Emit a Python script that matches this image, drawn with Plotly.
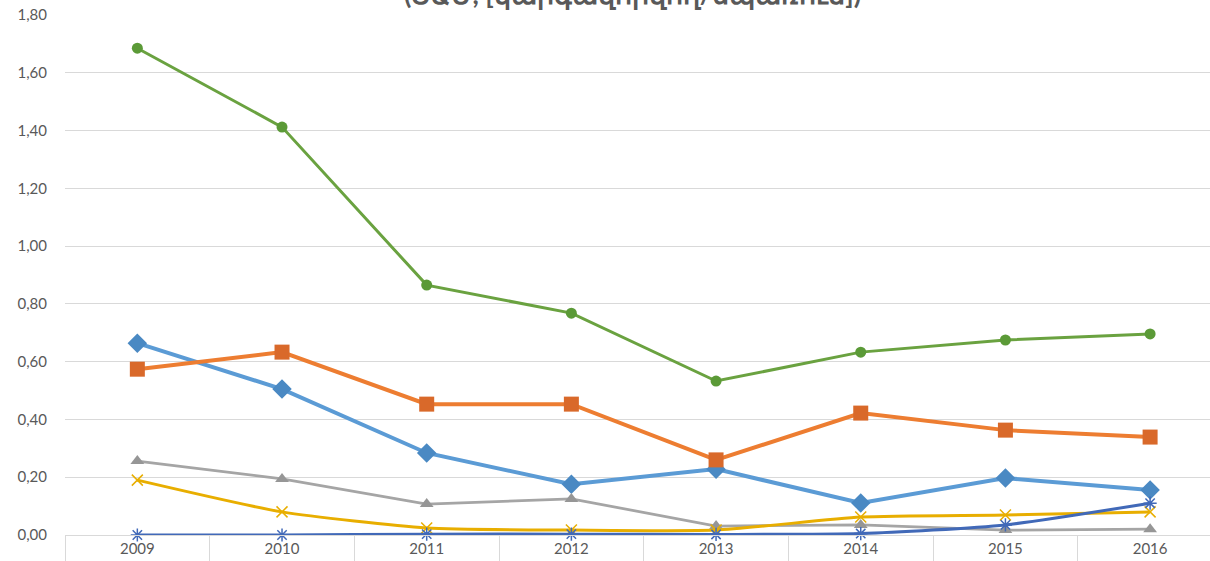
import plotly.graph_objects as go

years = ["2009", "2010", "2011", "2012", "2013", "2014", "2015", "2016"]

blue_vals = [0.664, 0.505, 0.284, 0.176, 0.228, 0.111, 0.197, 0.156]
orange_vals = [0.574, 0.633, 0.453, 0.453, 0.260, 0.422, 0.363, 0.339]
gray_vals = [0.256, 0.194, 0.107, 0.125, 0.031, 0.035, 0.017, 0.020]
yellow_vals = [0.190, 0.080, 0.024, 0.017, 0.017, 0.062, 0.069, 0.080]
darkblue_vals = [0.000, 0.000, 0.003, 0.003, 0.002, 0.005, 0.035, 0.110]
green_vals = [1.685, 1.412, 0.865, 0.768, 0.533, 0.633, 0.675, 0.696]

title_text = "(ՏԱՄ, [կարգավորվող/սպառում])"

FONT = "Lato, 'Open Sans', sans-serif"
TXT = "#595959"

fig = go.Figure()

def add(vals, lc, lw, mc, sym, ms, shape="linear", mline=None):
    marker = dict(color=mc, symbol=sym, size=ms)
    if mline:
        marker["line"] = mline
    fig.add_trace(go.Scatter(
        x=years, y=vals, mode="lines+markers",
        line=dict(color=lc, width=lw, shape=shape, smoothing=0.6),
        marker=marker, showlegend=False, cliponaxis=False))

add(blue_vals, "#5b9bd5", 4, "#4a89c3", "diamond", 15)
add(orange_vals, "#ed7d31", 4, "#d9692a", "square", 15)
add(gray_vals, "#a5a5a5", 2.75, "#969696", "triangle-up", 12)
add(yellow_vals, "#e8ae00", 3, "#e8ae00", "x-thin-open", 11, shape="spline",
    mline=dict(color="#e8ae00", width=1.5))
add(darkblue_vals, "#4169b8", 3, "#4169b8", "asterisk-open", 11, shape="spline",
    mline=dict(color="#4169b8", width=1.5))
add(green_vals, "#6aa240", 3, "#5b9a37", "circle", 11)

fig.add_annotation(
    text="<b>" + title_text + "</b>", xref="paper", yref="paper",
    x=(632 - 65) / 1145, y=1 + 21 / 520, xanchor="center", yanchor="middle",
    showarrow=False, font=dict(family=FONT, size=27, color=TXT))

fig.update_layout(
    width=1210, height=561,
    margin=dict(l=65, r=0, t=15, b=26),
    paper_bgcolor="white", plot_bgcolor="white",
    separators=",.",
    font=dict(family=FONT, size=15, color=TXT),
    xaxis=dict(
        type="category", range=[-0.5, 7.414],
        showgrid=False, showline=True, linecolor="#d9d9d9", linewidth=1,
        ticks="outside", tickson="boundaries", ticklen=26, tickcolor="#d9d9d9",
        tickwidth=1, tickfont=dict(family=FONT, size=15, color=TXT),
        zeroline=False),
    yaxis=dict(
        range=[0, 1.8], dtick=0.2, tickformat=".2f",
        showgrid=True, gridcolor="#d9d9d9", gridwidth=1,
        zeroline=False, showline=False, ticks="",
        ticklabelstandoff=17,
        tickfont=dict(family=FONT, size=15, color=TXT)),
)

fig.write_html("out.html", config={"displayModeBar": False},
               post_script="document.body.style.margin='0';document.body.style.overflow='hidden';")
